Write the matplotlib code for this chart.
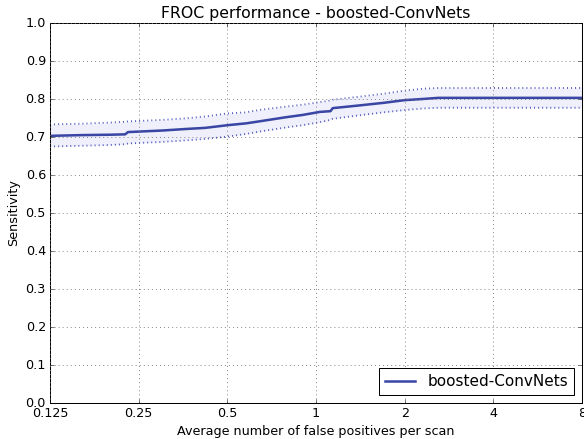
import matplotlib
matplotlib.use("Agg")
import matplotlib.pyplot as plt
from matplotlib.ticker import FixedLocator, FixedFormatter, NullLocator

# FROC operating points
fps = [0.125, 0.16, 0.2, 0.225, 0.23, 0.3, 0.36, 0.42, 0.5, 0.58, 0.64, 0.79,
       0.9, 1.03, 1.12, 1.14, 1.4, 1.7, 2.0, 2.3, 2.6, 4.0, 8.0]
sens = [0.703, 0.705, 0.706, 0.707, 0.713, 0.717, 0.721, 0.724, 0.731, 0.736,
        0.741, 0.752, 0.758, 0.766, 0.768, 0.776, 0.783, 0.790, 0.797, 0.800,
        0.803, 0.803, 0.803]
upper = [0.733, 0.735, 0.738, 0.740, 0.741, 0.745, 0.749, 0.754, 0.762, 0.765,
         0.771, 0.780, 0.785, 0.792, 0.796, 0.798, 0.806, 0.814, 0.822, 0.827,
         0.829, 0.829, 0.829]
lower = [0.675, 0.677, 0.679, 0.681, 0.683, 0.687, 0.691, 0.695, 0.701, 0.708,
         0.714, 0.725, 0.731, 0.739, 0.745, 0.748, 0.757, 0.765, 0.771, 0.775,
         0.777, 0.777, 0.777]

xticks = [0.125, 0.25, 0.5, 1, 2, 4, 8]
xtick_labels = ['0.125', '0.25', '0.5', '1', '2', '4', '8']
yticks = [0.0, 0.1, 0.2, 0.3, 0.4, 0.5, 0.6, 0.7, 0.8, 0.9, 1.0]

label = 'boosted-ConvNets'
line_color = '#3a46a4'

plt.style.use('classic')

fig = plt.figure(figsize=(8, 439 / 73), dpi=73, facecolor='white')
ax = fig.add_subplot(111)
fig.subplots_adjust(left=0.0856, right=0.9966, top=0.9476, bottom=0.082)

ax.fill_between(fps, lower, upper, color=(0.2, 0.2, 0.85), alpha=0.07, lw=0)
ax.plot(fps, upper, ':', color='#4f5bc0', lw=1.8)
ax.plot(fps, lower, ':', color='#4f5bc0', lw=1.8)
ax.plot(fps, sens, color=line_color, lw=2.5, label=label)

ax.set_xscale('log', base=2)
ax.set_xlim(0.125, 8)
ax.set_ylim(0, 1)
ax.xaxis.set_major_locator(FixedLocator(xticks))
ax.xaxis.set_major_formatter(FixedFormatter(xtick_labels))
ax.xaxis.set_minor_locator(NullLocator())
ax.set_yticks(yticks)
ax.tick_params(labelsize=12.6)

ax.grid(True, linestyle=':', color='0.45', lw=0.8)
ax.set_title('FROC performance - boosted-ConvNets', fontsize=15.5)
ax.set_xlabel('Average number of false positives per scan', fontsize=12.6)
ax.set_ylabel('Sensitivity', fontsize=12.6)
ax.legend(loc='lower right', fontsize=15, numpoints=1)

fig.savefig('out.png', dpi=73, facecolor='white')
